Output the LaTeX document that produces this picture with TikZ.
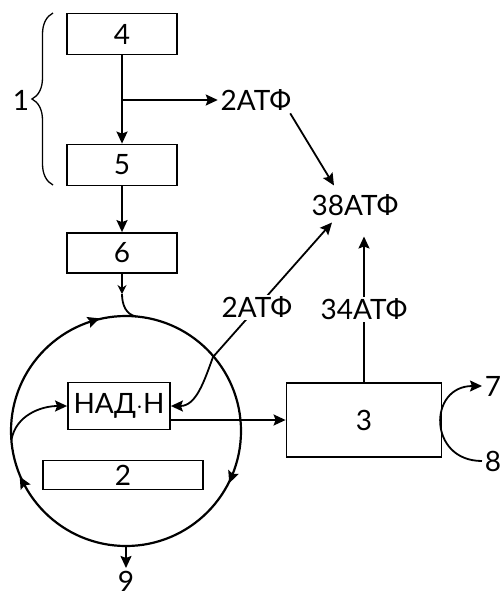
\documentclass[tikz,border=0pt]{standalone}
\usepackage{fontspec}
\setmainfont{Lato}
\usetikzlibrary{arrows.meta,decorations.pathreplacing,decorations.markings}
\begin{document}
\begin{tikzpicture}[x=1pt,y=1pt,line width=1.8pt,
  >={Stealth[length=12pt,width=11pt,inset=2pt]},
  font=\fontsize{28}{30}\selectfont,
  box/.style={draw,inner sep=0pt,minimum width=110pt,minimum height=41pt},
  lbl/.style={fill=white,inner sep=2pt}]
\useasboundingbox (0,0) rectangle (502,-598);
\node[box] (b4) at (122,-34) {4};
\node[box] (b5) at (122,-165) {5};
\node[box,minimum height=40pt] (b6) at (122,-253) {6};
\node[box,minimum width=102pt,minimum height=47pt] (nad) at (119,-406) {НАД$\cdot$Н};
\node[box,minimum width=160pt,minimum height=29pt] (b2) at (123,-475) {2};
\node[box,minimum width=155pt,minimum height=74pt] (b3) at (364,-420) {3};
\node[lbl] (atfA) at (256,-100) {2АТФ};
\node[lbl] (atf38) at (355,-205) {38АТФ};
\node (n1) at (21,-100) {1};
\node[inner sep=2pt] (n7) at (493,-386) {7};
\node[inner sep=2pt] (n8) at (493,-461) {8};
\node[inner sep=2pt] (n9) at (126,-581) {9};
\coordinate (k6) at (122,-294);
\coordinate (ktop) at (136,-316.4);
\coordinate (cl) at (11.4,-440);
\coordinate (cb) at (126,-546);
\coordinate (kb) at (213,-357);
% stage 1
\draw[line width=1.3pt,decorate,decoration={brace,amplitude=21pt}] (53,-185) -- (53,-13);
\draw[->] (b4) -- (b5);
\draw[->] (b4.south |- atfA) -- (atfA.west);
\draw[->] (b5) -- (b6);
\draw[->] ([xshift=-4pt]atfA.south east) -- ([xshift=-21pt,yshift=6pt]atf38.north);
% cycle
\draw[line width=2.2pt,postaction={decorate},decoration={markings,
  mark=at position .303 with {\arrow{<}},
  mark=at position .581 with {\arrow{<}},
  mark=at position .942 with {\arrow{<}}}] (126,-431) circle (115);
\draw[-{Stealth[length=9pt,width=9pt]}] (b6.south) -- (k6);
\draw (k6) to[out=-90,in=170] (ktop);
\draw[->] (cl) to[out=80,in=180] (nad.west);
\draw[->] (cb) -- (n9.north);
\draw[<->] (nad.east) to[out=0,in=250] (kb)
  -- node[lbl,pos=.37] (atfB) {2АТФ} ([xshift=-23pt,yshift=-4pt]atf38.south);
\draw[->] (nad.east |- b3.west) -- (b3.west);
\draw[->] (b3.north) -- node[lbl] (atf34) {34АТФ} ([yshift=-18pt]atf38.south -| b3.north);
\draw[->] (n8.west) to[out=180,in=180,looseness=1.85] (n7.west);
\end{tikzpicture}
\end{document}
